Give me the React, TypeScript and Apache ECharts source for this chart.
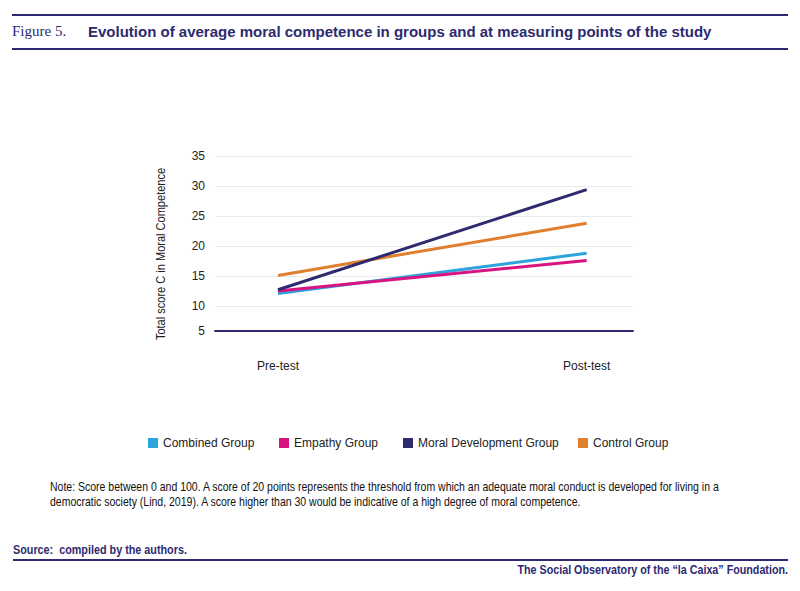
import React, { useEffect, useRef } from "react";
import * as echarts from "echarts";

const categories = ["Pre-test", "Post-test"];
const combinedGroup = [12.1, 18.8];
const empathyGroup = [12.5, 17.6];
const moralDevelopmentGroup = [12.7, 29.4];
const controlGroup = [15.1, 23.8];
const yTickValues = [10, 15, 20, 25, 30, 35];
const seriesNames = ["Combined Group", "Empathy Group", "Moral Development Group", "Control Group"];

const NAVY = "#2d2a70";
const COLORS = ["#2ea3dc", "#d9137f", "#2d2a70", "#e07f2e"];
const FONT = "Liberation Sans";
const LEGEND_LEFTS = [143, 274, 398, 573];

const Y_MIN = 35 - 175 / 6;

export default function App() {
  const ref = useRef<HTMLDivElement>(null);
  useEffect(() => {
    document.body.style.margin = "0";
    const chart = echarts.init(ref.current!, null, { renderer: "svg" });
    const toPts = (arr: number[]) => arr.map((v, i) => [i, v]);
    const dataSets = [combinedGroup, empathyGroup, moralDevelopmentGroup, controlGroup];
    const drawOrder = [3, 0, 1, 2];
    chart.setOption({
      animation: false,
      backgroundColor: "#ffffff",
      textStyle: { fontFamily: FONT },
      grid: { left: 215, right: 167, top: 156, bottom: 260, containLabel: false },
      xAxis: {
        type: "value",
        min: -0.204,
        max: 1.15,
        splitLine: { show: false },
        axisTick: { show: false },
        axisLine: { show: true, onZero: false, lineStyle: { color: NAVY, width: 2 } },
        axisLabel: {
          customValues: [0, 1],
          formatter: (v: number) => categories[Math.round(v)] ?? "",
          margin: 29,
          color: "#222",
          fontSize: 12,
          fontFamily: FONT,
        },
      },
      yAxis: {
        type: "value",
        min: Y_MIN,
        max: 35,
        axisLine: { show: false },
        axisTick: { show: false, customValues: yTickValues },
        splitLine: { show: true, lineStyle: { color: "#ebebeb", width: 1 } },
        axisLabel: {
          customValues: [Y_MIN, ...yTickValues],
          formatter: (v: number) => (v < 6 ? "5" : String(Math.round(v))),
          margin: 10,
          color: "#222",
          fontSize: 12,
          fontFamily: FONT,
        },
      },
      legend: seriesNames.map((name, i) => ({
        left: LEGEND_LEFTS[i],
        top: 432,
        itemWidth: 10,
        itemHeight: 10,
        icon: "rect",
        textStyle: { color: "#222", fontSize: 12, fontFamily: FONT },
        data: [name],
      })),
      series: drawOrder.map((i) => ({
        name: seriesNames[i],
        type: "line",
        data: toPts(dataSets[i]),
        showSymbol: false,
        symbol: "none",
        color: COLORS[i],
        lineStyle: { color: COLORS[i], width: 3 },
      })),
      graphic: [
        { type: "line", shape: { x1: 12, y1: 15, x2: 788, y2: 15 }, style: { stroke: NAVY, lineWidth: 2 } },
        {
          type: "text",
          x: 12,
          y: 31,
          style: { text: "Figure 5.", fill: NAVY, font: "normal 15px 'Liberation Serif'", verticalAlign: "middle" },
        },
        {
          type: "text",
          x: 88,
          y: 31,
          style: {
            text: "Evolution of average moral competence in groups and at measuring points of the study",
            fill: NAVY,
            font: "bold 15px 'Liberation Sans'",
            verticalAlign: "middle",
          },
        },
        { type: "line", shape: { x1: 12, y1: 49, x2: 788, y2: 49 }, style: { stroke: NAVY, lineWidth: 2 } },
        {
          type: "text",
          x: 161,
          y: 254,
          rotation: Math.PI / 2,
          scaleX: 0.92,
          style: {
            text: "Total score C in Moral Competence",
            fill: "#222",
            font: "normal 12px 'Liberation Sans'",
            align: "center",
            verticalAlign: "middle",
          },
        },
        {
          type: "text",
          x: 50,
          y: 487,
          scaleX: 0.876,
          style: {
            text: "Note: Score between 0 and 100. A score of 20 points represents the threshold from which an adequate moral conduct is developed for living in a",
            fill: "#111",
            font: "normal 12px 'Liberation Sans'",
            verticalAlign: "middle",
          },
        },
        {
          type: "text",
          x: 50,
          y: 502,
          scaleX: 0.876,
          style: {
            text: "democratic society (Lind, 2019). A score higher than 30 would be indicative of a high degree of moral competence.",
            fill: "#111",
            font: "normal 12px 'Liberation Sans'",
            verticalAlign: "middle",
          },
        },
        {
          type: "text",
          x: 13,
          y: 550,
          scaleX: 0.9,
          style: { text: "Source:  compiled by the authors.", fill: NAVY, font: "bold 12px 'Liberation Sans'", verticalAlign: "middle" },
        },
        { type: "line", shape: { x1: 13, y1: 560, x2: 788, y2: 560 }, style: { stroke: NAVY, lineWidth: 2 } },
        {
          type: "text",
          x: 788,
          y: 570,
          scaleX: 0.894,
          style: {
            text: "The Social Observatory of the \u201cla Caixa\u201d Foundation.",
            fill: NAVY,
            font: "bold 12px 'Liberation Sans'",
            align: "right",
            verticalAlign: "middle",
          },
        },
      ],
    });
    return () => chart.dispose();
  }, []);
  return <div ref={ref} style={{ width: 800, height: 591 }} />;
}
